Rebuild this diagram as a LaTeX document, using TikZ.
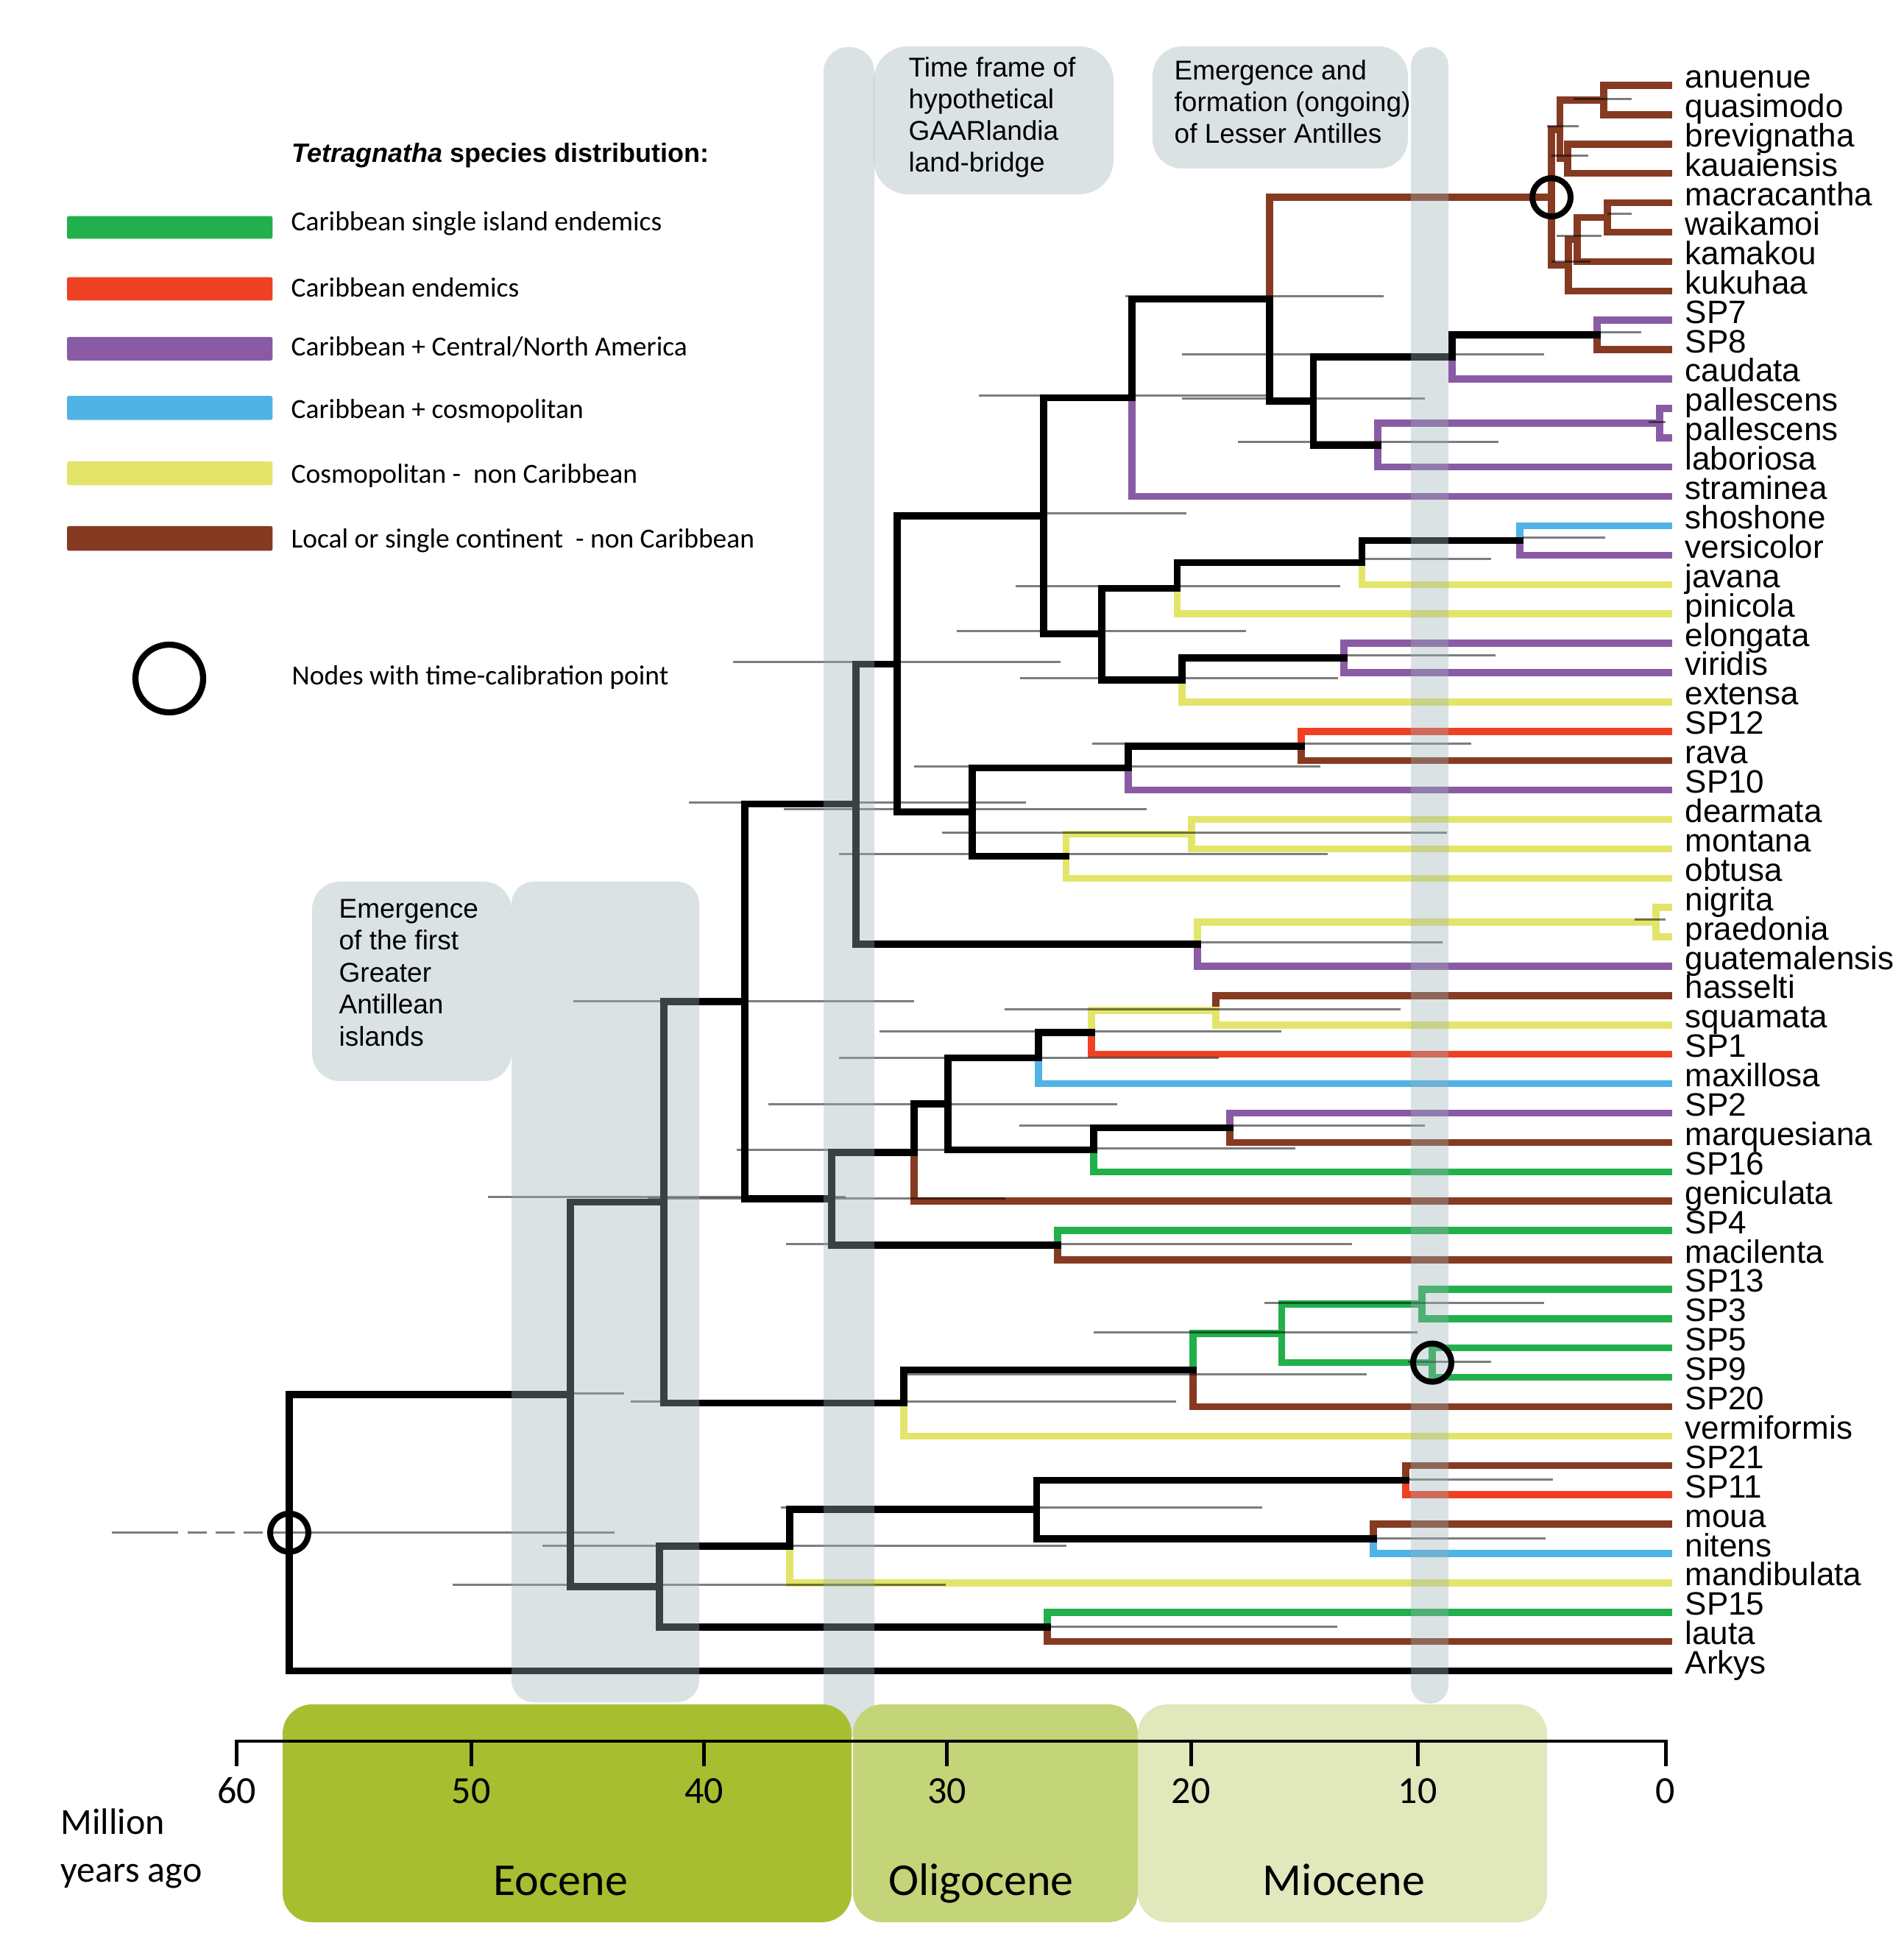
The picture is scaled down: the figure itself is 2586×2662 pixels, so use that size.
\documentclass[tikz,border=0pt]{standalone}
\usepackage{fontspec}
\setmainfont{Liberation Sans}
\newfontfamily\carl{Carlito}
\definecolor{cgreen}{RGB}{33,176,75}
\definecolor{cred}{RGB}{238,65,36}
\definecolor{cpurple}{RGB}{138,91,165}
\definecolor{cblue}{RGB}{79,179,230}
\definecolor{cyellow}{RGB}{227,229,106}
\definecolor{cbrown}{RGB}{134,58,33}
\definecolor{bandc}{RGB}{157,178,184}
\definecolor{boxc}{RGB}{219,226,228}
\definecolor{eoc}{RGB}{166,190,48}
\definecolor{oli}{RGB}{196,212,120}
\definecolor{mio}{RGB}{224,232,188}
\definecolor{errc}{RGB}{125,125,125}
\tikzset{
  br/.style={line width=2.85pt, line cap=rect, line join=miter},
  err/.style={errc, line width=0.9pt},
  lab/.style={anchor=base west, inner sep=0pt, font=\fontsize{13.2pt}{15pt}\selectfont},
  ann/.style={anchor=base west, inner sep=0pt, font=\fontsize{11.1pt}{13pt}\selectfont},
  lg/.style={anchor=base west, inner sep=0pt, font=\carl\fontsize{11.25pt}{13pt}\selectfont},
  axn/.style={anchor=base, inner sep=0pt, font=\carl\fontsize{15.6pt}{18pt}\selectfont},
  epo/.style={anchor=base, inner sep=0pt, font=\carl\fontsize{18.6pt}{21pt}\selectfont},
  calib/.style={line width=2.4pt, black}
}
\newcommand\brn[3]{\draw[br,#1] (#2) |- (#3);}
\newcommand\erb[3]{\draw[err] (#1,#3) -- (#2,#3);}
\begin{document}
\begin{tikzpicture}[x=0.3pt,y=-0.3pt]
\useasboundingbox (0,0) rectangle (2586,2662);
\fill[white] (0,0) rectangle (2586,2662);

% annotation boxes
\fill[boxc, rounded corners=14pt] (1187,63) rectangle (1513,264);
\fill[boxc, rounded corners=12pt] (1566,63) rectangle (1913,229);
\fill[boxc, rounded corners=11.4pt] (424,1198) rectangle (695,1469);
\node[ann] (gaar1) at (1234,105) {Time frame of};
\node[ann] (gaar2) at (1234,148) {hypothetical};
\node[ann] (gaar3) at (1234,191) {GAARlandia};
\node[ann] (gaar4) at (1234,234) {land-bridge};
\node[ann] (la1) at (1595,109) {Emergence and};
\node[ann] (la2) at (1595,152) {formation (ongoing)};
\node[ann] (la3) at (1595,195) {of Lesser Antilles};
\node[ann] (ga1) at (460,1247) {Emergence};
\node[ann] (ga2) at (460,1290) {of the first};
\node[ann] (ga3) at (460,1334) {Greater};
\node[ann] (ga4) at (460,1377) {Antillean};
\node[ann] (ga5) at (460,1421) {islands};

% tips
\foreach \n [count=\i] in {anuenue,quasimodo,brevignatha,kauaiensis,macracantha,waikamoi,kamakou,kukuhaa,SP7,SP8,caudata,pallescens,pallescens,laboriosa,straminea,shoshone,versicolor,javana,pinicola,elongata,viridis,extensa,SP12,rava,SP10,dearmata,montana,obtusa,nigrita,praedonia,guatemalensis,hasselti,squamata,SP1,maxillosa,SP2,marquesiana,SP16,geniculata,SP4,macilenta,SP13,SP3,SP5,SP9,SP20,vermiformis,SP21,SP11,moua,nitens,mandibulata,SP15,lauta,Arkys}{
  \pgfmathsetmacro\ty{116+(\i-1)*39.9}
  \coordinate (t\i) at (2267,\ty);
  \node[lab] (L\i) at (2289,\ty+4) {\n};
}

% internal nodes
\coordinate (h1) at (2179,135.95);
\coordinate (h2) at (2130,215.75);
\coordinate (h3) at (2119.5,175.85);
\coordinate (h4) at (2184,295.55);
\coordinate (h5) at (2143,325.48);
\coordinate (h6) at (2131,360.39);
\coordinate (h7) at (2108,268.12);
\coordinate (s1) at (2170,455.15);
\coordinate (s2) at (1973,485.08);
\coordinate (p1) at (2255,574.85);
\coordinate (p2) at (1872,604.78);
\coordinate (s3) at (1784.5,544.93);
\coordinate (nA) at (1725,406.53);
\coordinate (nB) at (1538,540.57);
\coordinate (v1) at (2065,734.45);
\coordinate (v2) at (1850.6,764.38);
\coordinate (v3) at (1599.5,799.29);
\coordinate (e1) at (1826,894.05);
\coordinate (e2) at (1606,923.98);
\coordinate (nD) at (1497,861.64);
\coordinate (nC) at (1418,701.1);
\coordinate (r1) at (1768,1013.75);
\coordinate (nJ) at (1533,1043.68);
\coordinate (d1) at (1619,1133.45);
\coordinate (nK) at (1448.5,1163.38);
\coordinate (nI) at (1321,1103.53);
\coordinate (nH) at (1219,902.32);
\coordinate (g1) at (2250,1253.15);
\coordinate (nN) at (1627,1283.08);
\coordinate (nM) at (1163,1092.7);
\coordinate (hs) at (1652,1372.85);
\coordinate (nT) at (1483,1402.78);
\coordinate (nR) at (1411,1437.69);
\coordinate (m1) at (1671,1532.45);
\coordinate (nS) at (1486,1562.38);
\coordinate (nQ) at (1288,1500.03);
\coordinate (nP) at (1242,1566.12);
\coordinate (k1) at (1437,1692.05);
\coordinate (nO) at (1130,1629.08);
\coordinate (nL) at (1012,1360.89);
\coordinate (c1) at (1932,1771.85);
\coordinate (c2) at (1946,1851.65);
\coordinate (c3) at (1741.6,1811.75);
\coordinate (c4) at (1621,1861.63);
\coordinate (nV) at (1228,1906.51);
\coordinate (nU) at (902,1633.7);
\coordinate (a1) at (1910,2011.25);
\coordinate (a2) at (1866,2091.05);
\coordinate (a3) at (1408.5,2051.15);
\coordinate (a4) at (1073,2101.03);
\coordinate (l1) at (1423,2210.75);
\coordinate (nZ) at (896,2155.89);
\coordinate (nY) at (775,1894.8);
\coordinate (root) at (393,2082.7);

% branches
\brn{cbrown}{h1}{t1} \brn{cbrown}{h1}{t2}
\brn{cbrown}{h2}{t3} \brn{cbrown}{h2}{t4}
\brn{cbrown}{h3}{h1} \brn{cbrown}{h3}{h2}
\brn{cbrown}{h4}{t5} \brn{cbrown}{h4}{t6}
\brn{cbrown}{h5}{h4} \brn{cbrown}{h5}{t7}
\brn{cbrown}{h6}{h5} \brn{cbrown}{h6}{t8}
\brn{cbrown}{h7}{h3} \brn{cbrown}{h7}{h6}
\brn{cpurple}{s1}{t9} \brn{cbrown}{s1}{t10}
\brn{black}{s2}{s1} \brn{cpurple}{s2}{t11}
\brn{cpurple}{p1}{t12} \brn{cpurple}{p1}{t13}
\brn{cpurple}{p2}{p1} \brn{cpurple}{p2}{t14}
\brn{black}{s3}{s2} \brn{black}{s3}{p2}
\brn{cbrown}{nA}{h7} \brn{black}{nA}{s3}
\brn{black}{nB}{nA} \brn{cpurple}{nB}{t15}
\brn{cblue}{v1}{t16} \brn{cpurple}{v1}{t17}
\brn{black}{v2}{v1} \brn{cyellow}{v2}{t18}
\brn{black}{v3}{v2} \brn{cyellow}{v3}{t19}
\brn{cpurple}{e1}{t20} \brn{cpurple}{e1}{t21}
\brn{black}{e2}{e1} \brn{cyellow}{e2}{t22}
\brn{black}{nD}{v3} \brn{black}{nD}{e2}
\brn{black}{nC}{nB} \brn{black}{nC}{nD}
\brn{cred}{r1}{t23} \brn{cbrown}{r1}{t24}
\brn{black}{nJ}{r1} \brn{cpurple}{nJ}{t25}
\brn{cyellow}{d1}{t26} \brn{cyellow}{d1}{t27}
\brn{cyellow}{nK}{d1} \brn{cyellow}{nK}{t28}
\brn{black}{nI}{nJ} \brn{black}{nI}{nK}
\brn{black}{nH}{nC} \brn{black}{nH}{nI}
\brn{cyellow}{g1}{t29} \brn{cyellow}{g1}{t30}
\brn{cyellow}{nN}{g1} \brn{cpurple}{nN}{t31}
\brn{black}{nM}{nH} \brn{black}{nM}{nN}
\brn{cbrown}{hs}{t32} \brn{cyellow}{hs}{t33}
\brn{cyellow}{nT}{hs} \brn{cred}{nT}{t34}
\brn{black}{nR}{nT} \brn{cblue}{nR}{t35}
\brn{cpurple}{m1}{t36} \brn{cbrown}{m1}{t37}
\brn{black}{nS}{m1} \brn{cgreen}{nS}{t38}
\brn{black}{nQ}{nR} \brn{black}{nQ}{nS}
\brn{black}{nP}{nQ} \brn{cbrown}{nP}{t39}
\brn{cgreen}{k1}{t40} \brn{cbrown}{k1}{t41}
\brn{black}{nO}{nP} \brn{black}{nO}{k1}
\brn{black}{nL}{nM} \brn{black}{nL}{nO}
\brn{cgreen}{c1}{t42} \brn{cgreen}{c1}{t43}
\brn{cgreen}{c2}{t44} \brn{cgreen}{c2}{t45}
\brn{cgreen}{c3}{c1} \brn{cgreen}{c3}{c2}
\brn{cgreen}{c4}{c3} \brn{cbrown}{c4}{t46}
\brn{black}{nV}{c4} \brn{cyellow}{nV}{t47}
\brn{black}{nU}{nL} \brn{black}{nU}{nV}
\brn{cbrown}{a1}{t48} \brn{cred}{a1}{t49}
\brn{cbrown}{a2}{t50} \brn{cblue}{a2}{t51}
\brn{black}{a3}{a1} \brn{black}{a3}{a2}
\brn{black}{a4}{a3} \brn{cyellow}{a4}{t52}
\brn{cgreen}{l1}{t53} \brn{cbrown}{l1}{t54}
\brn{black}{nZ}{a4} \brn{black}{nZ}{l1}
\brn{black}{nY}{nU} \brn{black}{nY}{nZ}
\brn{black}{root}{nY} \brn{black}{root}{t55}

% error bars (multiplied over the branches)
\begin{scope}[blend mode=multiply]
\erb{2138}{2217}{134.8}
\erb{2102}{2145}{172}
\erb{2108}{2158}{212}
\erb{2184}{2217}{291}
\erb{2115}{2176}{321}
\erb{2108}{2161}{356}
\erb{1529}{1880}{403}
\erb{2171}{2230}{452}
\erb{1606}{2098}{482}
\erb{1330}{1720}{537.5}
\erb{1606}{1936}{541.5}
\erb{2240}{2263}{574}
\erb{1682}{2036}{601}
\erb{1418}{1612}{698}
\erb{2069}{2181}{731}
\erb{1851}{2026}{760}
\erb{1380}{1821}{797}
\erb{1300}{1693}{858}
\erb{1827}{2032}{891}
\erb{1386}{1818}{921}
\erb{996}{1441}{900}
\erb{1484}{1999}{1010}
\erb{1242}{1794}{1041}
\erb{936}{1394}{1090.5}
\erb{1065}{1558}{1099}
\erb{1280}{1966}{1131}
\erb{1140}{1804}{1160}
\erb{2221}{2263}{1249}
\erb{1622}{1960}{1280}
\erb{779}{1242}{1360}
\erb{1365}{1903}{1371}
\erb{1195}{1741}{1401}
\erb{1140}{1656}{1437}
\erb{1044}{1518}{1500}
\erb{1385}{1936}{1529}
\erb{1390}{1760}{1560}
\erb{1001}{1285}{1562}
\erb{663}{1149}{1626}
\erb{880}{1366}{1628}
\erb{1068}{1837}{1690}
\erb{1718}{2098}{1770}
\erb{1486}{1926}{1810}
\erb{1913}{2026}{1850}
\erb{1232}{1857}{1867}
\erb{775}{848}{1893}
\erb{857}{1598}{1904}
\erb{1758}{2110}{2010}
\erb{1061}{1715}{2048}
\erb{1800}{2100}{2090}
\erb{737}{1449}{2100}
\erb{615}{1285}{2153}
\erb{1420}{1817}{2210}
\draw[err] (152,2082.7) -- (242,2082.7);
\draw[err, dash pattern=on 7.8pt off 3.6pt] (255,2082.7) -- (362,2082.7);
\draw[err] (370,2082.7) -- (835,2082.7);
\end{scope}

% translucent time bands
\fill[bandc, opacity=0.37, rounded corners=10pt] (1119,64) rectangle (1188,2360);
\fill[bandc, opacity=0.37, rounded corners=7.5pt] (1917,64) rectangle (1968,2315);
\fill[bandc, opacity=0.37, rounded corners=9pt] (695,1198) rectangle (950,2313);

% calibration circles
\draw[calib] (h7) circle[radius=7.8pt];
\draw[calib] (c2) circle[radius=7.8pt];
\draw[calib] (root) circle[radius=7.8pt];

% epochs
\fill[eoc, rounded corners=12pt] (384,2316) rectangle (1157,2612);
\fill[oli, rounded corners=12pt] (1159,2316) rectangle (1546,2612);
\fill[mio, rounded corners=12pt] (1546,2316) rectangle (2102,2612);
\node[epo] (eocene) at (762,2575) {Eocene};
\node[epo] (oligocene) at (1333,2575) {Oligocene};
\node[epo] (miocene) at (1826,2575) {Miocene};

% axis
\draw[line width=1.2pt] (321.6,2366) -- (2263,2366);
\foreach \xx/\lbl in {321.6/60,640/50,956.6/40,1286.5/30,1618/20,1926/10,2263/0}{
  \draw[line width=1.5pt] (\xx,2364) -- (\xx,2400);
  \node[axn] at (\xx,2450) {\lbl};
}
\node[anchor=base west, inner sep=0pt, font=\carl\fontsize{15pt}{17pt}\selectfont] (mill) at (82,2492) {Million};
\node[anchor=base west, inner sep=0pt, font=\carl\fontsize{15pt}{17pt}\selectfont] (yago) at (82,2557) {years ago};

% legend
\node[anchor=base west, inner sep=0pt, font=\fontsize{10.8pt}{13pt}\selectfont] (legtitle) at (396,220.5) {\bfseries\itshape Tetragnatha\upshape\ species distribution:};
\fill[cgreen, rounded corners=0.8pt] (91,293.6) rectangle (370.4,324.5);
\fill[cred, rounded corners=0.8pt] (91,376.6) rectangle (370.4,408.5);
\fill[cpurple, rounded corners=0.8pt] (91,457.9) rectangle (370.4,489.8);
\fill[cblue, rounded corners=0.8pt] (91,538) rectangle (370.4,570.6);
\fill[cyellow, rounded corners=0.8pt] (91,627) rectangle (370.4,659.5);
\fill[cbrown, rounded corners=0.8pt] (91,714.8) rectangle (370.4,748.4);
\node[lg] (lg1) at (395,313.7) {Caribbean single island endemics};
\node[lg] (lg2) at (395,403.7) {Caribbean endemics};
\node[lg] (lg3) at (395,483.3) {Caribbean + Central/North America};
\node[lg] (lg4) at (395,569) {Caribbean + cosmopolitan};
\node[lg] (lg5) at (395,656.8) {Cosmopolitan -\ \ non Caribbean};
\node[lg] (lg6) at (395,744.6) {Local or single continent\ \ - non Caribbean};
\coordinate (legcirc) at (230,922);
\draw[line width=2.5pt] (legcirc) circle[radius=13.8pt];
\node[lg] (lg7) at (396,930.5) {Nodes with time-calibration point};
\end{tikzpicture}
\end{document}
